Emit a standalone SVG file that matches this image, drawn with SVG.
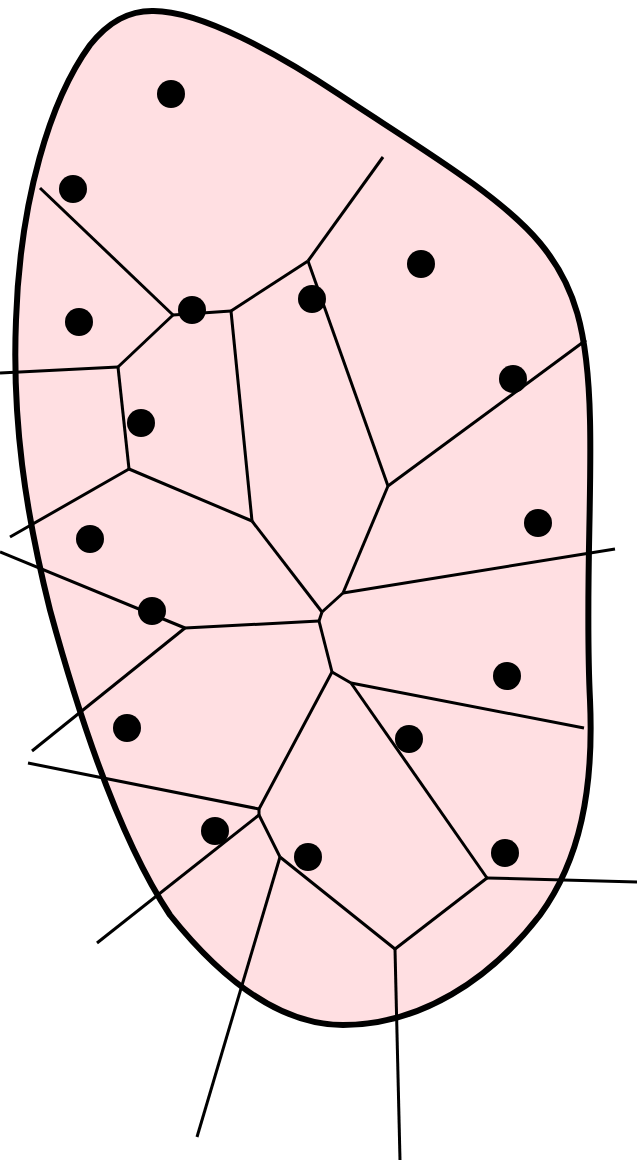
<svg xmlns="http://www.w3.org/2000/svg" width="637" height="1162" viewBox="0 0 637 1162">
<style>
.blob{fill:#ffdfe2;stroke:#000;stroke-width:6;stroke-linejoin:round}
.edge{fill:none;stroke:#000;stroke-width:3;stroke-linecap:butt;stroke-linejoin:miter}
.site{fill:#000}
</style>
<rect width="637" height="1162" fill="#fff"/>
<g id="region">
<path class="blob" d="M152,11 C200,10 280,55 340,95 C420,148 500,195 540,243 C575,285 588,330 590,420 C592,500 585,600 590,700 C594,790 580,860 540,915 C490,980 420,1025 343,1025 C270,1025 210,965 170,915 C120,840 80,720 50,610 C25,510 12,420 16,320 C20,200 50,100 90,45 C110,20 130,11 152,11 Z"/>
</g>
<g id="edges">
<line class="edge" x1="40" y1="188" x2="173" y2="315"/>
<line class="edge" x1="173" y1="315" x2="231" y2="311"/>
<line class="edge" x1="173" y1="315" x2="118" y2="367"/>
<line class="edge" x1="231" y1="311" x2="308" y2="261"/>
<line class="edge" x1="231" y1="311" x2="252" y2="521"/>
<line class="edge" x1="308" y1="261" x2="383" y2="157"/>
<line class="edge" x1="308" y1="261" x2="388" y2="486"/>
<line class="edge" x1="388" y1="486" x2="586" y2="340"/>
<line class="edge" x1="388" y1="486" x2="343" y2="593"/>
<line class="edge" x1="118" y1="367" x2="0" y2="373"/>
<line class="edge" x1="118" y1="367" x2="129" y2="469"/>
<line class="edge" x1="129" y1="469" x2="10" y2="537"/>
<line class="edge" x1="129" y1="469" x2="252" y2="521"/>
<line class="edge" x1="252" y1="521" x2="322" y2="612"/>
<line class="edge" x1="322" y1="612" x2="343" y2="593"/>
<line class="edge" x1="322" y1="612" x2="319" y2="621"/>
<line class="edge" x1="343" y1="593" x2="615" y2="549"/>
<line class="edge" x1="319" y1="621" x2="185" y2="628"/>
<line class="edge" x1="319" y1="621" x2="332" y2="672"/>
<line class="edge" x1="185" y1="628" x2="0" y2="552"/>
<line class="edge" x1="185" y1="628" x2="32" y2="751"/>
<line class="edge" x1="332" y1="672" x2="351" y2="683"/>
<line class="edge" x1="332" y1="672" x2="259" y2="809"/>
<line class="edge" x1="351" y1="683" x2="584" y2="728"/>
<line class="edge" x1="351" y1="683" x2="487" y2="878"/>
<line class="edge" x1="487" y1="878" x2="637" y2="882"/>
<line class="edge" x1="487" y1="878" x2="395" y2="949"/>
<line class="edge" x1="395" y1="949" x2="280" y2="857"/>
<line class="edge" x1="395" y1="949" x2="400" y2="1160"/>
<line class="edge" x1="280" y1="857" x2="259" y2="815"/>
<line class="edge" x1="280" y1="857" x2="197" y2="1137"/>
<line class="edge" x1="259" y1="809" x2="28" y2="763"/>
<line class="edge" x1="259" y1="815" x2="97" y2="943"/>
<line class="edge" x1="259" y1="809" x2="259" y2="815"/>
</g>
<g id="sites">
<circle class="site" cx="171" cy="94" r="14"/>
<circle class="site" cx="73" cy="189" r="14"/>
<circle class="site" cx="79" cy="322" r="14"/>
<circle class="site" cx="192" cy="310" r="14"/>
<circle class="site" cx="312" cy="299" r="14"/>
<circle class="site" cx="421" cy="264" r="14"/>
<circle class="site" cx="513" cy="379" r="14"/>
<circle class="site" cx="141" cy="423" r="14"/>
<circle class="site" cx="90" cy="539" r="14"/>
<circle class="site" cx="538" cy="523" r="14"/>
<circle class="site" cx="152" cy="611" r="14"/>
<circle class="site" cx="507" cy="676" r="14"/>
<circle class="site" cx="127" cy="728" r="14"/>
<circle class="site" cx="409" cy="739" r="14"/>
<circle class="site" cx="215" cy="831" r="14"/>
<circle class="site" cx="308" cy="857" r="14"/>
<circle class="site" cx="505" cy="853" r="14"/>
</g>
</svg>
